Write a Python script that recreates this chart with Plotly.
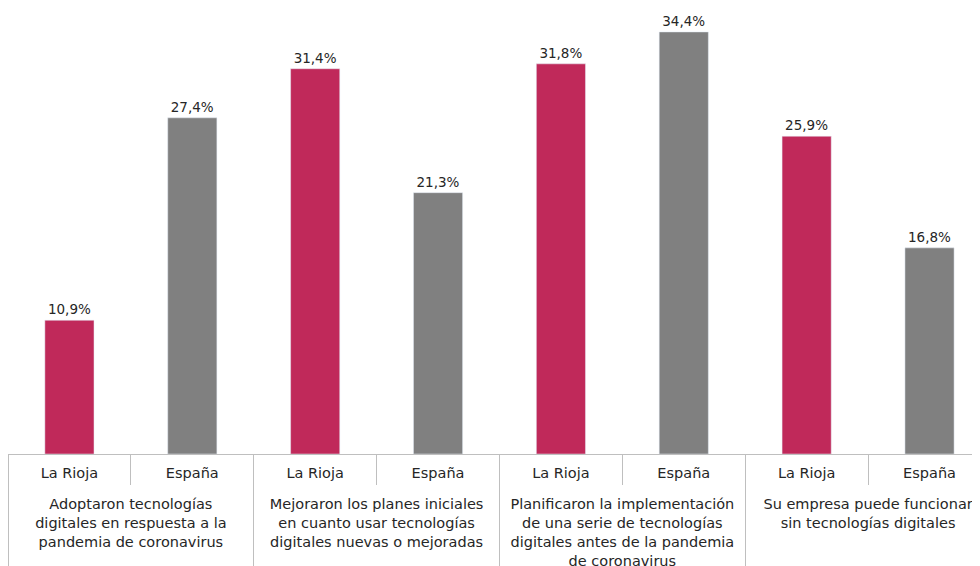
import plotly.graph_objects as go

groups = [
    "<br>Adoptaron tecnologías<br>digitales en respuesta a la<br>pandemia de coronavirus",
    "<br>Mejoraron los planes iniciales<br>en cuanto usar tecnologías<br>digitales nuevas o mejoradas",
    "<br>Planificaron la implementación<br>de una serie de tecnologías<br>digitales antes de la pandemia<br>de coronavirus",
    "<br>Su empresa puede funcionar<br>sin tecnologías digitales",
]
regions = ["La Rioja", "España"]
la_rioja = [10.9, 31.4, 31.8, 25.9]
espana = [27.4, 21.3, 34.4, 16.8]

colors_map = {"La Rioja": "#C0295A", "España": "#808080"}

x0, x1, vals, cols, texts = [], [], [], [], []
for i, g in enumerate(groups):
    for r, v in zip(regions, [la_rioja[i], espana[i]]):
        x0.append(g)
        x1.append(r)
        vals.append(v)
        cols.append(colors_map[r])
        texts.append(f"{v:.1f}%".replace(".", ","))

fig = go.Figure(go.Bar(
    x=[x0, x1], y=vals, marker_color=cols, width=0.4,
    text=texts, textposition="outside", cliponaxis=False,
    textfont=dict(size=13.5, color="#262626"),
))

fig.update_layout(
    width=980, height=566,
    margin=dict(l=0, r=0, t=0, b=120, autoexpand=False),
    plot_bgcolor="white", paper_bgcolor="white",
    font=dict(family="DejaVu Sans", size=14.5, color="#262626"),
    showlegend=False,
)
fig.update_xaxes(
    type="multicategory", range=[-0.5, 7.476], automargin=False,
    showline=True, linecolor="#BFBFBF", linewidth=1,
    ticks="outside", tickcolor="#BFBFBF", ticklen=30,
    ticklabelstandoff=6,
    showdividers=True, dividercolor="#BFBFBF", dividerwidth=1,
    tickfont=dict(size=14.5, color="#262626"),
)
fig.update_yaxes(range=[0, 36.35], visible=False, showgrid=False)

fig.write_html("out.html")
